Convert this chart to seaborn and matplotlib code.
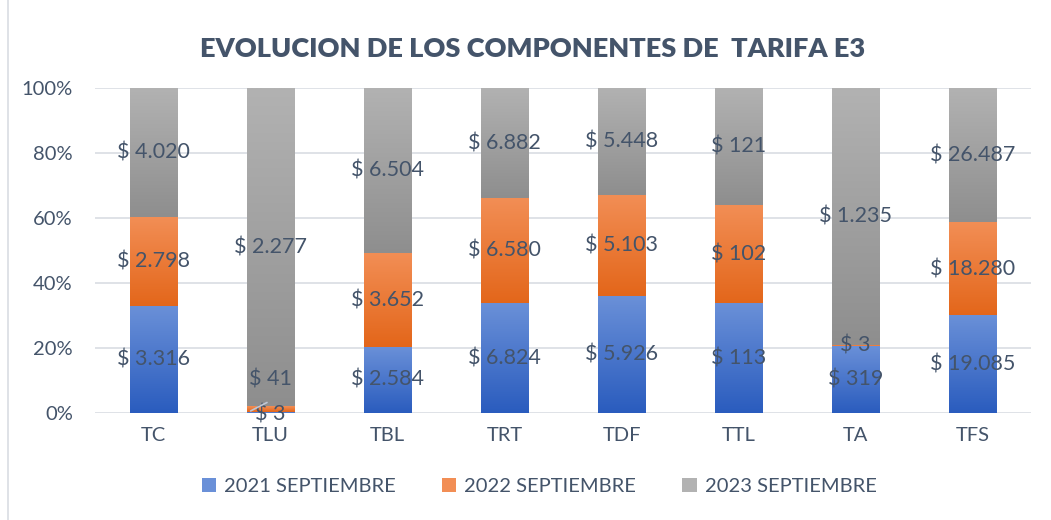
import numpy as np
import pandas as pd
import matplotlib
matplotlib.use("Agg")
import matplotlib.pyplot as plt
import seaborn as sns
from matplotlib.colors import LinearSegmentedColormap
from matplotlib.patches import Patch, Rectangle

categories = ["TC", "TLU", "TBL", "TRT", "TDF", "TTL", "TA", "TFS"]
series_names = ["2021 SEPTIEMBRE", "2022 SEPTIEMBRE", "2023 SEPTIEMBRE"]
v2021 = [3316, 3, 2584, 6824, 5926, 113, 319, 19085]
v2022 = [2798, 41, 3652, 6580, 5103, 102, 3, 18280]
v2023 = [4020, 2277, 6504, 6882, 5448, 121, 1235, 26487]
label_offsets_2021 = [0, -0.7, 0, 0, 0, 0, 0, 0]
label_offsets_2022 = [0, 9.2, 0, 0, 0, 0, 0, 0]

sns.set_theme(style="white")
plt.rcParams['font.family'] = ['Lato', 'DejaVu Sans']
TXT = "#44546A"

df = pd.DataFrame({"cat": categories, "a": v2021, "b": v2022, "c": v2023})
tot = df[["a", "b", "c"]].sum(axis=1)
df["pa"] = df["a"] / tot * 100
df["pb"] = df["b"] / tot * 100
df["pc"] = df["c"] / tot * 100
df["cum_a"] = df["pa"]
df["cum_b"] = df["pa"] + df["pb"]
df["cum_c"] = df["cum_b"] + df["pc"]

fig = plt.figure(figsize=(10.51, 5.2), dpi=100)
ax = fig.add_axes([0.0904, 0.206, 0.8906, 0.625])

width = 0.41
grads = [
    ("#6A90D8", "#2A5CBE"),
    ("#F28E55", "#E3661A"),
    ("#B2B2B2", "#8E8E8E"),
]
layers = [("cum_c", 2), ("cum_b", 1), ("cum_a", 0)]
for col, idx in layers:
    sns.barplot(data=df, x="cat", y=col, color=grads[idx][0], width=width,
                ax=ax, saturation=1, order=categories)

n = len(categories)
patches = list(ax.patches)
for li, (col, idx) in enumerate(layers):
    cmap = LinearSegmentedColormap.from_list("g", [grads[idx][1], grads[idx][0]])
    for j in range(n):
        p = patches[li * n + j]
        x0 = p.get_x(); w = p.get_width()
        y_top = p.get_height()
        if idx == 2:
            y_bot = df["cum_b"].iloc[j]
        elif idx == 1:
            y_bot = df["cum_a"].iloc[j]
        else:
            y_bot = 0
        p.set_visible(False)
        if y_top - y_bot <= 0:
            continue
        grad = np.linspace(0, 1, 256).reshape(-1, 1)
        ax.imshow(grad, cmap=cmap, origin="lower", aspect="auto",
                  extent=(x0, x0 + w, y_bot, y_top), zorder=2 + li * 0.1,
                  interpolation="bilinear")

ax.set_xlim(-0.5, n - 0.5)
ax.set_ylim(0, 100)

def fmt(v):
    return "$ " + f"{v:,}".replace(",", ".")

FS = 15.5
for j in range(n):
    c = df["pa"].iloc[j] / 2 + label_offsets_2021[j]
    ax.text(j, c, fmt(v2021[j]), ha="center", va="center", color=TXT, fontsize=FS, zorder=5)
    c = df["cum_a"].iloc[j] + df["pb"].iloc[j] / 2 + label_offsets_2022[j]
    ax.text(j, c, fmt(v2022[j]), ha="center", va="center", color=TXT, fontsize=FS, zorder=5)
    c = df["cum_b"].iloc[j] + df["pc"].iloc[j] / 2
    ax.text(j, c, fmt(v2023[j]), ha="center", va="center", color=TXT, fontsize=FS, zorder=5)

# leader line for TLU small label
ax.plot([1 - 0.17, 1 - 0.03], [0.6, 3.2], color="#BFC7D5", lw=1.2, zorder=6)

ax.set_yticks([0, 20, 40, 60, 80, 100])
ax.set_yticklabels(["0%", "20%", "40%", "60%", "80%", "100%"])
ax.yaxis.grid(True, color="#D9DDE3", lw=1.2)
ax.set_axisbelow(True)
for s in ax.spines.values():
    s.set_visible(False)
ax.tick_params(axis="both", length=0, colors=TXT, labelsize=14.5)
ax.tick_params(axis="y", pad=16)
ax.tick_params(axis="x", pad=10)
ax.set_xlabel("")
ax.set_ylabel("")

fig.text(0.507, 0.905, "EVOLUCION DE LOS COMPONENTES DE  TARIFA E3", ha="center", va="center",
         fontsize=19.5, fontweight="heavy", color=TXT)

handles = [Patch(facecolor=grads[i][0], edgecolor="none") for i in range(3)]
fig.legend(handles, series_names, loc="center", bbox_to_anchor=(0.513, 0.064), ncol=3,
           frameon=False, fontsize=14.5, labelcolor=TXT, handlelength=0.7, handleheight=0.7,
           columnspacing=2.3, handletextpad=0.4)

fig.patches.append(Rectangle((0.008, -0.01), 1.1, 1.1, transform=fig.transFigure,
                             fill=False, edgecolor="#D9DDE3", lw=1.2))

fig.savefig("out.png", dpi=100)
